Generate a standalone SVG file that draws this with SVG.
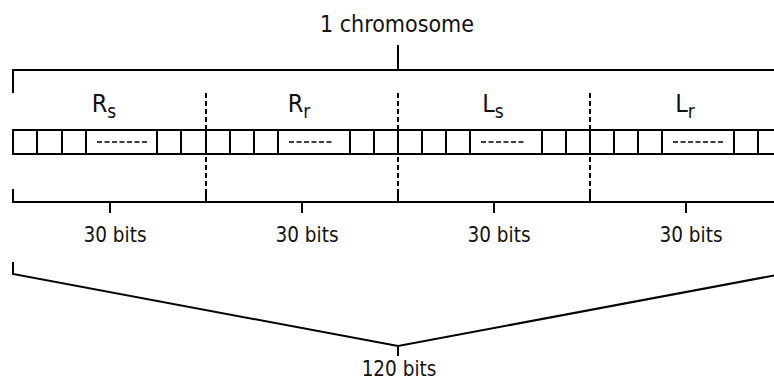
<svg xmlns="http://www.w3.org/2000/svg" width="774" height="381" viewBox="0 0 774 381">
<style>
.ln{fill:none;stroke:#000;stroke-width:2}
.dv{fill:none;stroke:#000;stroke-width:2;stroke-dasharray:5,3}
.dd{fill:none;stroke:#000;stroke-width:1.6;stroke-dasharray:5,2.5}
.t{font-family:"DejaVu Sans Condensed","DejaVu Sans",sans-serif;fill:#111;text-anchor:middle}
.lb{font-size:20.5px}
.ttl{font-size:23px}
.sym{font-size:25px}
.sub{font-size:19px}
</style>
<rect width="774" height="381" fill="#fff"/>
<g id="connectors">
  <path class="ln" d="M13,93V70H776M398,45V70"/>
  <path class="dv" d="M206,93V189M398,93V189M590,93V189"/>
  <path class="ln" d="M13,189V202H776M206,189V202M398,189V202M590,189V202M110,202V213M302,202V213M494,202V213M686,202V213"/>
  <path class="ln" d="M13,262V274L398,346L782,274M398,346V356"/>
</g>
<g id="title"><text class="t ttl" x="397" y="32">1 chromosome</text></g>
<g id="seg-Rs">
  <text class="t sym" x="104" y="112">R<tspan class="sub" dy="6">s</tspan></text>
  <path class="ln" d="M13,130H206V154H13ZM37,130V154M62,130V154M86,130V154M157,130V154M181,130V154"/>
  <path class="dd" d="M97,142H147"/>
  <text class="t lb" x="115" y="242">30 bits</text>
</g>
<g id="seg-Rr">
  <text class="t sym" x="299" y="112">R<tspan class="sub" dy="6">r</tspan></text>
  <path class="ln" d="M206,130H398V154H206ZM230,130V154M254,130V154M278,130V154M350,130V154M374,130V154"/>
  <path class="dd" d="M289,142H334"/>
  <text class="t lb" x="307" y="242">30 bits</text>
</g>
<g id="seg-Ls">
  <text class="t sym" x="493" y="112">L<tspan class="sub" dy="6">s</tspan></text>
  <path class="ln" d="M398,130H590V154H398ZM422,130V154M446,130V154M470,130V154M542,130V154M566,130V154"/>
  <path class="dd" d="M481,142H526"/>
  <text class="t lb" x="499" y="242">30 bits</text>
</g>
<g id="seg-Lr">
  <text class="t sym" x="685" y="112">L<tspan class="sub" dy="6">r</tspan></text>
  <path class="ln" d="M590,130H782V154H590ZM614,130V154M638,130V154M662,130V154M734,130V154M758,130V154"/>
  <path class="dd" d="M673,142H723"/>
  <text class="t lb" x="691" y="242">30 bits</text>
</g>
<g id="total"><text class="t lb" x="399" y="376">120 bits</text></g>
</svg>
